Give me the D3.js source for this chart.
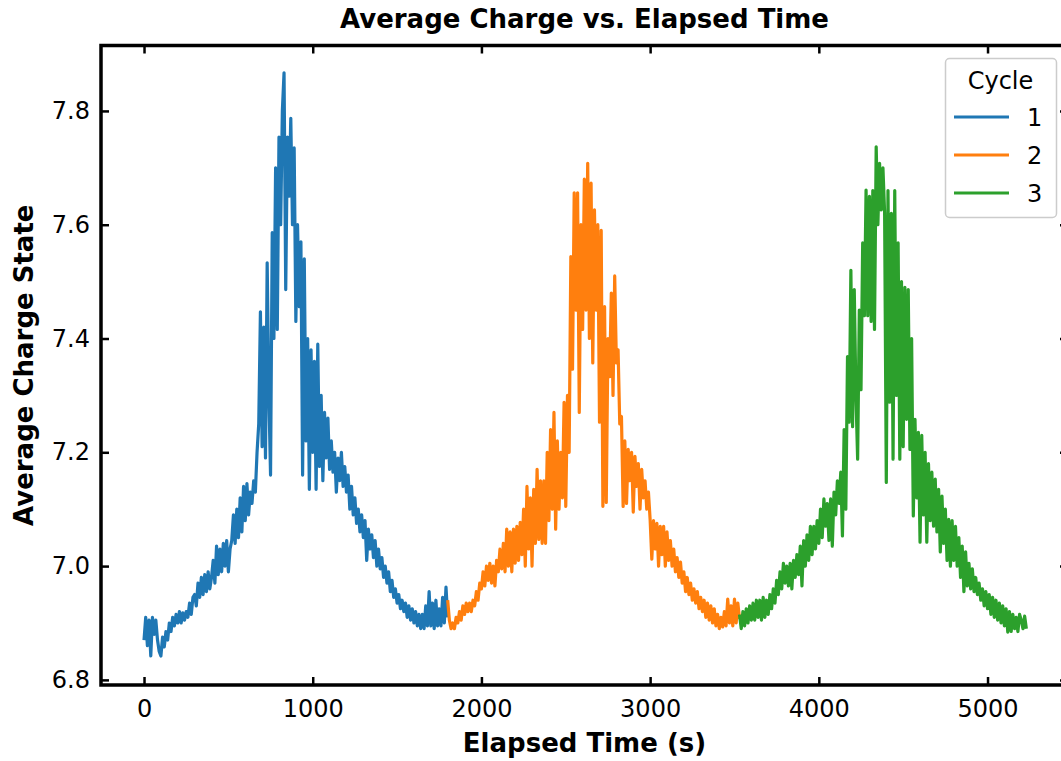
<!DOCTYPE html>
<html>
<head>
<meta charset="utf-8">
<script src="https://cdn.jsdelivr.net/npm/d3@7"></script>
<style>
  body { margin: 0; background: #fff; }
  svg { display: block; font-family: 'DejaVu Sans', sans-serif; }
</style>
</head>
<body>
<div id="chart"></div>
<script>
// chart data
const cycleNames = ['1', '2', '3'];
const cycleColors = ['#1f77b4', '#ff7f0e', '#2ca02c'];
const cycleStart = [0, 1800, 3530]; // seconds, first sample of each cycle
const sampleStep = 10; // seconds between samples

const cycle1Charge = [
  6.87, 6.91, 6.86, 6.905, 6.842, 6.91, 6.88, 6.905, 6.87, 6.85,
  6.842, 6.875, 6.858, 6.885, 6.87, 6.9, 6.885, 6.91, 6.895, 6.915,
  6.9, 6.92, 6.9, 6.918, 6.905, 6.92, 6.91, 6.935, 6.915, 6.945,
  6.95, 6.93, 6.97, 6.945, 6.98, 6.95, 6.985, 6.955, 6.99, 6.96,
  6.98, 7.01, 6.97, 7.035, 6.985, 7.03, 6.99, 7.04, 7.0, 7.045,
  6.99, 7.03, 7.045, 7.09, 7.04, 7.1, 7.05, 7.12, 7.06, 7.14,
  7.08, 7.145, 7.09, 7.13, 7.11, 7.15, 7.13, 7.2, 7.25, 7.447,
  7.21, 7.42, 7.19, 7.533, 7.3, 7.16, 7.586, 7.4, 7.70, 7.416,
  7.754, 7.6, 7.80, 7.867, 7.486, 7.754, 7.65, 7.787, 7.60, 7.735,
  7.43, 7.6, 7.456, 7.57, 7.16, 7.54, 7.22, 7.40, 7.135, 7.38,
  7.2, 7.36, 7.135, 7.39, 7.175, 7.3, 7.15, 7.27, 7.19, 7.26,
  7.17, 7.22, 7.165, 7.2, 7.13, 7.19, 7.15, 7.2, 7.14, 7.175,
  7.13, 7.16, 7.1, 7.14, 7.09, 7.12, 7.075, 7.1, 7.06, 7.09,
  7.05, 7.08, 7.01, 7.065, 7.03, 7.055, 7.015, 7.045, 7.0, 7.03,
  6.995, 7.015, 6.98, 7.0, 6.97, 6.99, 6.955, 6.975, 6.945, 6.96,
  6.935, 6.95, 6.925, 6.94, 6.92, 6.935, 6.91, 6.93, 6.905, 6.925,
  6.9, 6.92, 6.895, 6.915, 6.89, 6.915, 6.89, 6.93, 6.895, 6.955,
  6.895, 6.935, 6.89, 6.94, 6.895, 6.925, 6.895, 6.945, 6.9, 6.963,
  6.91
];

const cycle2Charge = [
  6.94, 6.905, 6.89, 6.9, 6.89, 6.91, 6.9, 6.92, 6.905, 6.93,
  6.915, 6.935, 6.92, 6.935, 6.92, 6.94, 6.93, 6.955, 6.94, 6.97,
  6.96, 6.99, 6.965, 7.0, 6.975, 7.005, 6.97, 7.0, 6.965, 7.01,
  6.99, 7.03, 6.995, 7.04, 6.99, 7.065, 7.0, 7.06, 6.99, 7.065,
  7.005, 7.07, 7.01, 7.077, 7.02, 7.1, 7.0, 7.14, 7.03, 7.12,
  7.0, 7.135, 7.04, 7.17, 7.047, 7.15, 7.04, 7.15, 7.04, 7.2,
  7.08, 7.24, 7.1, 7.27, 7.065, 7.22, 7.1, 7.2, 7.12, 7.288,
  7.105, 7.30, 7.2, 7.544, 7.346, 7.656, 7.45, 7.656, 7.27, 7.6,
  7.416, 7.68, 7.45, 7.708, 7.40, 7.673, 7.357, 7.626, 7.45, 7.6,
  7.253, 7.59, 7.105, 7.456, 7.112, 7.4, 7.333, 7.48, 7.3, 7.51,
  7.357, 7.38, 7.25, 7.263, 7.105, 7.22, 7.11, 7.205, 7.15, 7.2,
  7.095, 7.193, 7.14, 7.18, 7.1, 7.17, 7.12, 7.15, 7.1, 7.13,
  7.082, 7.012, 7.08, 7.03, 7.075, 7.0, 7.07, 7.02, 7.07, 7.0,
  7.06, 7.01, 7.045, 7.0, 7.03, 6.99, 7.015, 6.98, 7.007, 6.97,
  6.99, 6.955, 6.98, 6.95, 6.97, 6.94, 6.96, 6.935, 6.955, 6.925,
  6.945, 6.92, 6.94, 6.91, 6.935, 6.905, 6.93, 6.9, 6.925, 6.895,
  6.915, 6.89, 6.91, 6.893, 6.92, 6.895, 6.942, 6.9, 6.93, 6.895,
  6.942, 6.9, 6.935, 6.907
];

const cycle3Charge = [
  6.915, 6.89, 6.92, 6.895, 6.925, 6.9, 6.93, 6.905, 6.935, 6.905,
  6.94, 6.91, 6.94, 6.905, 6.945, 6.91, 6.94, 6.915, 6.95, 6.925,
  6.96, 6.935, 6.975, 6.95, 6.99, 6.96, 7.005, 6.97, 7.0, 6.965,
  7.005, 6.96, 7.01, 6.98, 7.02, 6.985, 7.035, 6.965, 7.045, 7.0,
  7.055, 7.01, 7.07, 7.02, 7.07, 7.03, 7.08, 7.04, 7.1, 7.05,
  7.118, 7.07, 7.11, 7.045, 7.118, 7.035, 7.13, 7.09, 7.15, 7.11,
  7.165, 7.053, 7.24, 7.1, 7.368, 7.253, 7.52, 7.245, 7.486, 7.3,
  7.188, 7.45, 7.31, 7.568, 7.44, 7.661, 7.44, 7.65, 7.43, 7.66,
  7.416, 7.737, 7.6, 7.708, 7.626, 7.70, 7.62, 7.147, 7.66, 7.288,
  7.62, 7.188, 7.66, 7.3, 7.568, 7.188, 7.5, 7.21, 7.49, 7.258,
  7.486, 7.205, 7.40, 7.088, 7.258, 7.12, 7.235, 7.042, 7.23, 7.09,
  7.2, 7.042, 7.18, 7.08, 7.165, 7.07, 7.153, 7.06, 7.135, 7.025,
  7.123, 7.04, 7.1, 7.01, 7.082, 7.0, 7.08, 7.01, 7.07, 7.0,
  7.05, 6.98, 7.035, 6.955, 7.025, 6.965, 7.005, 6.96, 6.995, 6.955,
  6.98, 6.95, 6.97, 6.94, 6.96, 6.93, 6.955, 6.925, 6.95, 6.915,
  6.945, 6.91, 6.94, 6.905, 6.935, 6.9, 6.93, 6.895, 6.925, 6.884,
  6.92, 6.885, 6.915, 6.89, 6.91, 6.885, 6.915, 6.905, 6.89, 6.912,
  6.89
];

const xTicks = [0, 1000, 2000, 3000, 4000, 5000];
const yTicks = [6.8, 7.0, 7.2, 7.4, 7.6, 7.8];

// layout
const width = 1061, height = 761;
const plot = { left: 101, right: 1068, top: 45.5, bottom: 685 };

const svg = d3.select('#chart').append('svg')
  .attr('width', width)
  .attr('height', height);

svg.append('rect').attr('width', width).attr('height', height).attr('fill', '#fff');

const x = d3.scaleLinear().domain([-255, 5477]).range([plot.left, plot.right]);
const y = d3.scaleLinear().domain([6.791, 7.915]).range([plot.bottom, plot.top]);

// build the series from the value lists
const series = [cycle1Charge, cycle2Charge, cycle3Charge].map((vals, k) =>
  vals.map((v, i) => ({ t: cycleStart[k] + i * sampleStep, v: v }))
);

const line = d3.line().x(d => x(d.t)).y(d => y(d.v));

svg.selectAll('.cycle')
  .data(series)
  .enter().append('path')
  .attr('class', 'cycle')
  .attr('d', line)
  .attr('fill', 'none')
  .attr('stroke', (d, i) => cycleColors[i])
  .attr('stroke-width', 3.2)
  .attr('stroke-linejoin', 'round');

// axes, ticks pointing inward on all four sides
function styleAxis(g) {
  g.select('.domain').remove();
  g.selectAll('.tick line').attr('stroke', '#000').attr('stroke-width', 2.5);
  g.selectAll('.tick text').attr('fill', '#000').style('font-size', '24px')
    .style('font-family', "'DejaVu Sans', sans-serif");
}

svg.append('g')
  .attr('transform', `translate(0,${plot.bottom})`)
  .call(d3.axisBottom(x).tickValues(xTicks).tickSize(-8).tickPadding(15).tickFormat(d3.format('d')))
  .call(styleAxis);

svg.append('g')
  .attr('transform', `translate(0,${plot.top})`)
  .call(d3.axisTop(x).tickValues(xTicks).tickSize(-8).tickFormat(''))
  .call(styleAxis);

svg.append('g')
  .attr('transform', `translate(${plot.left},0)`)
  .call(d3.axisLeft(y).tickValues(yTicks).tickSize(-8).tickPadding(11).tickFormat(d3.format('.1f')))
  .call(styleAxis);

svg.append('g')
  .attr('transform', `translate(${plot.right},0)`)
  .call(d3.axisRight(y).tickValues(yTicks).tickSize(-8).tickFormat(''))
  .call(styleAxis);

// spines
svg.append('rect')
  .attr('x', plot.left)
  .attr('y', plot.top)
  .attr('width', plot.right - plot.left)
  .attr('height', plot.bottom - plot.top)
  .attr('fill', 'none')
  .attr('stroke', '#000')
  .attr('stroke-width', 3.5);

// title and axis labels
const midX = (plot.left + plot.right) / 2;

svg.append('text')
  .attr('x', midX).attr('y', 28)
  .attr('text-anchor', 'middle')
  .style('font-size', '26px').style('font-weight', 'bold')
  .text('Average Charge vs. Elapsed Time');

svg.append('text')
  .attr('x', midX).attr('y', 752)
  .attr('text-anchor', 'middle')
  .style('font-size', '26px').style('font-weight', 'bold')
  .text('Elapsed Time (s)');

svg.append('text')
  .attr('transform', `translate(33,${(plot.top + plot.bottom) / 2}) rotate(-90)`)
  .attr('text-anchor', 'middle')
  .style('font-size', '26px').style('font-weight', 'bold')
  .text('Average Charge State');

// legend
const legend = svg.append('g').attr('transform', 'translate(945.5,58.5)');

legend.append('rect')
  .attr('width', 111).attr('height', 159)
  .attr('rx', 4)
  .attr('fill', '#fff').attr('fill-opacity', 0.8)
  .attr('stroke', '#cccccc').attr('stroke-width', 1.5);

legend.append('text')
  .attr('x', 55).attr('y', 30.5)
  .attr('text-anchor', 'middle')
  .style('font-size', '24px')
  .text('Cycle');

cycleNames.forEach((name, i) => {
  const ly = 58.5 + i * 38;
  legend.append('line')
    .attr('x1', 8.5).attr('x2', 63.5)
    .attr('y1', ly).attr('y2', ly)
    .attr('stroke', cycleColors[i]).attr('stroke-width', 2.8);
  legend.append('text')
    .attr('x', 81.5).attr('y', ly + 9)
    .style('font-size', '24px')
    .text(name);
});
</script>
</body>
</html>
